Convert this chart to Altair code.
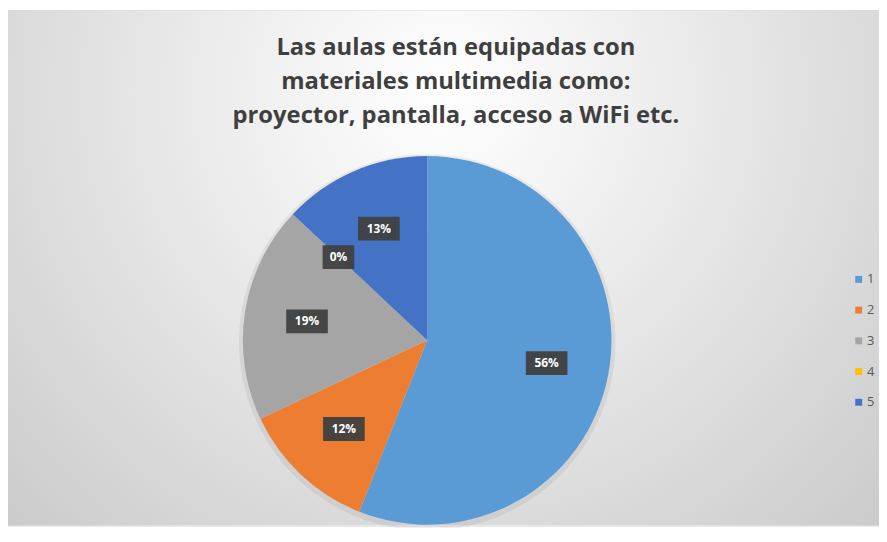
import altair as alt
import pandas as pd

categories = ["1", "2", "3", "4", "5"]
values = [56, 12, 19, 0, 13]
labels = ["56%", "12%", "19%", "0%", "13%"]
colors = ["#5B9BD5", "#ED7D31", "#A5A5A5", "#FFC000", "#4472C4"]
title_lines = ["Las aulas están equipadas con",
               "materiales multimedia como:",
               "proyector, pantalla, acceso a WiFi etc."]

W, H = 879, 520
CX, CY, R = 423, 333, 186
LR = 0.66 * R

df = pd.DataFrame({"cat": categories, "value": values, "label": labels})
base = alt.Chart(df)

bg = alt.Chart(alt.Data(values=[{}])).mark_rect(
    color=alt.Gradient(
        gradient="radial",
        stops=[alt.GradientStop(color="#ffffff", offset=0),
               alt.GradientStop(color="#f0f0f0", offset=0.25),
               alt.GradientStop(color="#c0c0c0", offset=1)],
        x1=0.5, y1=0.3, r1=0, x2=0.5, y2=0.3, r2=0.85,
    )
).encode(x=alt.value(0), x2=alt.value(W), y=alt.value(0), y2=alt.value(H))

shadow = alt.Chart(alt.Data(values=[{}])).mark_arc(
    radius=190, color="#000000", opacity=0.06, theta=0, theta2=6.2832
).encode(x=alt.value(CX), y=alt.value(CY + 2))

pie = base.mark_arc(radius=R, stroke=None).encode(
    x=alt.value(CX), y=alt.value(CY),
    theta=alt.Theta("value:Q", stack=True),
    order=alt.Order("cat:N", sort="ascending"),
    color=alt.Color(
        "cat:N",
        scale=alt.Scale(domain=categories, range=colors),
        legend=alt.Legend(
            title=None, orient="none", legendX=852, legendY=265,
            symbolType="square", symbolSize=49, symbolStrokeWidth=0,
            labelFontSize=13, labelColor="#595959", labelFont="Open Sans",
            rowPadding=17, labelOffset=2,
        ),
    ),
)

lab = base.transform_joinaggregate(total="sum(value)").transform_window(
    cum="sum(value)", sort=[alt.SortField("cat")]
).transform_calculate(
    mid=f"(datum.cum - datum.value / 2) / datum.total * 2 * PI",
    lx=f"{CX} + {LR} * sin(datum.mid)",
    ly=f"{CY} - {LR} * cos(datum.mid)",
    bw="length(datum.label) * 10 + 12",
    bx="datum.lx - datum.bw / 2",
    bx2="datum.lx + datum.bw / 2",
    by="datum.ly - 12",
    by2="datum.ly + 12",
)

boxes = lab.mark_rect(color="#404040", opacity=0.95).encode(
    x=alt.X("bx:Q", scale=None), x2="bx2:Q",
    y=alt.Y("by:Q", scale=None), y2="by2:Q",
)

texts = lab.mark_text(
    color="white", font="Open Sans", fontWeight="bold", fontSize=12,
    align="center", baseline="middle",
).encode(
    x=alt.X("lx:Q", scale=None), y=alt.Y("ly:Q", scale=None), text="label:N"
)

title = alt.Chart(alt.Data(values=[{}])).mark_text(
    text=title_lines, font="Open Sans", fontWeight="bold", fontSize=24,
    color="#3f3f3f", align="center", baseline="alphabetic", lineHeight=34.5,
).encode(x=alt.value(452), y=alt.value(45))

chart = alt.layer(bg, title, shadow, pie, boxes, texts).properties(
    width=W, height=H, padding=0, autosize=alt.AutoSizeParams(type="none")
).configure_view(stroke=None).configure(background="#ffffff")

chart.save("out.html", embed_options={"renderer": "svg", "actions": False})
